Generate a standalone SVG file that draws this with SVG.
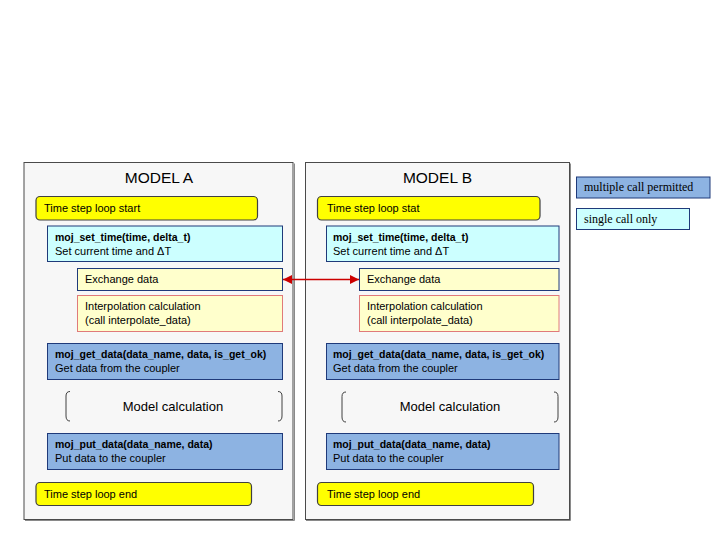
<svg xmlns="http://www.w3.org/2000/svg" width="720" height="540" viewBox="0 0 720 540">
<defs>
<style>
.model{fill:#f7f7f7;stroke:#4a4a4a;stroke-width:1}
.shadow{fill:none;stroke:#8a8a8a;stroke-width:1}
.title{font-family:"Liberation Sans",Arial,sans-serif;font-size:15.5px;fill:#000;text-anchor:middle}
.t{font-family:"Liberation Sans",Arial,sans-serif;font-size:11px;fill:#000}
.b{font-family:"Liberation Sans",Arial,sans-serif;font-size:10.5px;font-weight:bold;fill:#000}
.calc{font-family:"Liberation Sans",Arial,sans-serif;font-size:13px;fill:#000;text-anchor:middle}
.lg{font-family:"Liberation Serif","Times New Roman",serif;font-size:12px;fill:#000}
.loop{fill:#ffff00;stroke:#404040;stroke-width:1.2}
.single{fill:#ccffff;stroke:#1f3a7a;stroke-width:1}
.multi{fill:#8db3e2;stroke:#1f3a7a;stroke-width:1}
.exch{fill:#ffffcc;stroke:#1f3a7a;stroke-width:1}
.interp{fill:#ffffcc;stroke:#e07a7a;stroke-width:1}
.br{fill:none;stroke:#404040;stroke-width:1}
.conn{stroke:#cc0000;stroke-width:1.5;fill:none}
</style>
<marker id="ah" viewBox="0 0 10 10" refX="10" refY="5" markerWidth="6" markerHeight="6" orient="auto-start-reverse">
<path d="M0,0 L10,5 L0,10 z" fill="#cc0000"/>
</marker>
</defs>
<rect width="720" height="540" fill="#ffffff"/>

<g id="modelA">
<path class="shadow" d="M294.5,163.5 L294.5,520.5 L25,520.5"/>
<rect class="model" x="24" y="162.5" width="269" height="357"/>
<text class="title" x="159" y="183">MODEL A</text>
<g id="A-loopstart">
<rect class="loop" x="36" y="196.5" width="221.5" height="23.5" rx="4"/>
<text class="t" x="44" y="212">Time step loop start</text>
</g>
<g id="A-settime">
<rect class="single" x="47.5" y="226" width="235" height="35.5"/>
<text class="b" x="55" y="241">moj_set_time(time, delta_t)</text>
<text class="t" x="55" y="255">Set current time and ΔT</text>
</g>
<g id="A-exchange">
<rect class="exch" x="77.5" y="268.5" width="205" height="22"/>
<text class="t" x="85" y="283">Exchange data</text>
</g>
<g id="A-interp">
<rect class="interp" x="77.5" y="295.5" width="205" height="36"/>
<text class="t" x="85" y="310">Interpolation calculation</text>
<text class="t" x="85" y="324">(call interpolate_data)</text>
</g>
<g id="A-getdata">
<rect class="multi" x="47.5" y="343.5" width="235" height="36"/>
<text class="b" x="55" y="358">moj_get_data(data_name, data, is_get_ok)</text>
<text class="t" x="55" y="372">Get data from the coupler</text>
</g>
<g id="A-calc">
<path class="br" d="M70,391.5 Q66,391.5 66,396 L66,416 Q66,421 70,421"/>
<path class="br" d="M278,391.5 Q282,391.5 282,396 L282,416 Q282,421 278,421"/>
<text class="calc" x="173" y="411">Model calculation</text>
</g>
<g id="A-putdata">
<rect class="multi" x="47.5" y="433.5" width="235" height="36"/>
<text class="b" x="55" y="448">moj_put_data(data_name, data)</text>
<text class="t" x="55" y="462">Put data to the coupler</text>
</g>
<g id="A-loopend">
<rect class="loop" x="36" y="482.5" width="215.5" height="23" rx="4"/>
<text class="t" x="44" y="498">Time step loop end</text>
</g>
</g>

<g id="modelB">
<path class="shadow" d="M570.5,163.5 L570.5,520.5 L306,520.5"/>
<rect class="model" x="305.5" y="162.5" width="264" height="357"/>
<text class="title" x="437.5" y="183">MODEL B</text>
<g id="B-loopstart">
<rect class="loop" x="317.5" y="196.5" width="222.5" height="23.5" rx="4"/>
<text class="t" x="327" y="212">Time step loop stat</text>
</g>
<g id="B-settime">
<rect class="single" x="326.5" y="226" width="232.5" height="35.5"/>
<text class="b" x="333" y="241">moj_set_time(time, delta_t)</text>
<text class="t" x="333" y="255">Set current time and ΔT</text>
</g>
<g id="B-exchange">
<rect class="exch" x="359.5" y="268.5" width="199.5" height="22"/>
<text class="t" x="367" y="283">Exchange data</text>
</g>
<g id="B-interp">
<rect class="interp" x="359.5" y="295.5" width="199.5" height="36"/>
<text class="t" x="367" y="310">Interpolation calculation</text>
<text class="t" x="367" y="324">(call interpolate_data)</text>
</g>
<g id="B-getdata">
<rect class="multi" x="326.5" y="343.5" width="232.5" height="36"/>
<text class="b" x="333" y="358">moj_get_data(data_name, data, is_get_ok)</text>
<text class="t" x="333" y="372">Get data from the coupler</text>
</g>
<g id="B-calc">
<path class="br" d="M346,392 Q342,392 342,396.5 L342,417 Q342,422 346,422"/>
<path class="br" d="M554,392 Q558,392 558,396.5 L558,417 Q558,422 554,422"/>
<text class="calc" x="450" y="411">Model calculation</text>
</g>
<g id="B-putdata">
<rect class="multi" x="326.5" y="433.5" width="232.5" height="36"/>
<text class="b" x="333" y="448">moj_put_data(data_name, data)</text>
<text class="t" x="333" y="462">Put data to the coupler</text>
</g>
<g id="B-loopend">
<rect class="loop" x="317.5" y="482.5" width="216" height="23" rx="4"/>
<text class="t" x="327" y="498">Time step loop end</text>
</g>
</g>

<g id="connectors">
<line class="conn" x1="283" y1="279.5" x2="359" y2="279.5" marker-start="url(#ah)" marker-end="url(#ah)"/>
</g>

<g id="legend-multi">
<rect class="multi" x="576.5" y="177" width="133.5" height="21"/>
<text class="lg" x="584" y="191">multiple call permitted</text>
</g>
<g id="legend-single">
<rect class="single" x="576.5" y="208.5" width="113" height="21"/>
<text class="lg" x="584" y="223">single call only</text>
</g>
</svg>
